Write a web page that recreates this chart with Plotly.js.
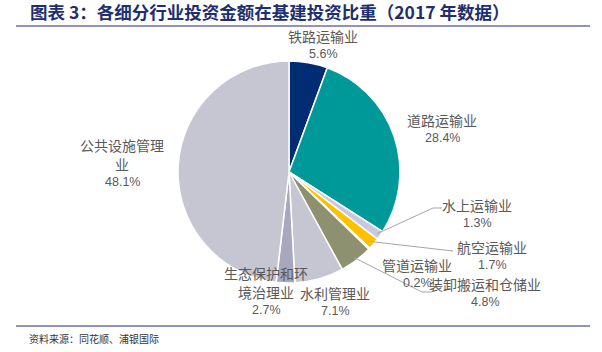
<!DOCTYPE html>
<html><head><meta charset="utf-8">
<script src="https://cdn.plot.ly/plotly-3.0.1.min.js"></script>
<style>html,body{margin:0;padding:0;background:#fff;}#chart{width:602px;height:352px;}</style>
</head><body><div id="chart"></div>
<script>
// Data
const categories = ["铁路运输业","道路运输业","水上运输业","航空运输业","管道运输业","装卸搬运和仓储业","水利管理业","生态保护和环境治理业","公共设施管理业"];
const values = [5.6, 28.4, 1.3, 1.7, 0.2, 4.8, 7.1, 2.7, 48.1];
const valueLabels = ["5.6%","28.4%","1.3%","1.7%","0.2%","4.8%","7.1%","2.7%","48.1%"];
const labelLines = [["铁路运输业"],["道路运输业"],["水上运输业"],["航空运输业"],["管道运输业"],["装卸搬运和仓储业"],["水利管理业"],["生态保护和环","境治理业"],["公共设施管理","业"]];
const colors = ["#002C73","#00999A","#C8C8DE","#FFC000","#7F7F7F","#8E9170","#C6C6D3","#A7A8BD","#C6C6D3"];

const W = 602, H = 352;
const cx = 289, cy = 172, R = 111;
// label positions (pixel, center of first line)
const labelPos = [[323,36],[442,120],[477,205],[492,247],[417,265],[485,284],[335,293],[266,273],[122,145]];
const leaderTo = {2:[[433,208],[442,208]], 3:[[453,251]], 5:[[422,292],[432,292]]};

const px = x => x / W;
const py = y => 1 - y / H;

const total = values.reduce((a,b)=>a+b,0);
const cum = [];
let c = 0;
values.forEach(v => { cum.push(c + v/2); c += v; });

const shapes = [];
Object.keys(leaderTo).forEach(k => {
  const i = +k;
  const th = cum[i] / total * 2 * Math.PI;
  let x0 = cx + R*0.97*Math.sin(th), y0 = cy - R*0.97*Math.cos(th);
  leaderTo[i].forEach(p => {
    shapes.push({type:'line', xref:'paper', yref:'paper', x0:px(x0), y0:py(y0), x1:px(p[0]), y1:py(p[1]), line:{color:'#A6A6A6', width:1}});
    x0 = p[0]; y0 = p[1];
  });
});
// header / footer rules
shapes.push({type:'line', xref:'paper', yref:'paper', x0:px(16), x1:px(590), y0:py(26), y1:py(26), line:{color:'#6E6EA8', width:1.5}});
shapes.push({type:'line', xref:'paper', yref:'paper', x0:px(16), x1:px(590), y0:py(326), y1:py(326), line:{color:'#6E6EA8', width:1.5}});

const annotations = [];
const cjk = "Noto Sans CJK SC";
labelLines.forEach((lines, i) => {
  const [lx, ly] = labelPos[i];
  lines.forEach((t, j) => {
    annotations.push({xref:'paper', yref:'paper', x:px(lx), y:py(ly + j*19), text:t, showarrow:false,
      xanchor:'center', yanchor:'middle', font:{family:cjk, size:14, color:'#595959'}});
  });
  annotations.push({xref:'paper', yref:'paper', x:px(lx), y:py(ly + lines.length*19 - 1), text:valueLabels[i], showarrow:false,
    xanchor:'center', yanchor:'middle', font:{family:"Liberation Sans, Arial", size:12.5, color:'#595959'}});
});
annotations.push({xref:'paper', yref:'paper', x:px(28), y:py(12), text:"<b>图表 3：各细分行业投资金额在基建投资比重（2017 年数据）</b>", showarrow:false,
  xanchor:'left', yanchor:'middle', font:{family:cjk, size:17.5, color:'#1E2E6E'}});
annotations.push({xref:'paper', yref:'paper', x:px(27), y:py(338), text:"资料来源：同花顺、浦银国际", showarrow:false,
  xanchor:'left', yanchor:'middle', font:{family:cjk, size:10, color:'#333333'}});

const trace = {
  type:'pie', labels:categories, values:values, sort:false, direction:'clockwise', rotation:0,
  textinfo:'none', hoverinfo:'none', showlegend:false,
  marker:{colors:colors, line:{color:'#FFFFFF', width:1.5}},
  domain:{x:[px(cx-R), px(cx+R)], y:[py(cy+R), py(cy-R)]}
};

Plotly.newPlot('chart', [trace], {
  width:W, height:H, margin:{l:0,r:0,t:0,b:0}, paper_bgcolor:'#fff', plot_bgcolor:'#fff',
  showlegend:false, shapes:shapes, annotations:annotations
}, {staticPlot:true});
</script></body></html>
